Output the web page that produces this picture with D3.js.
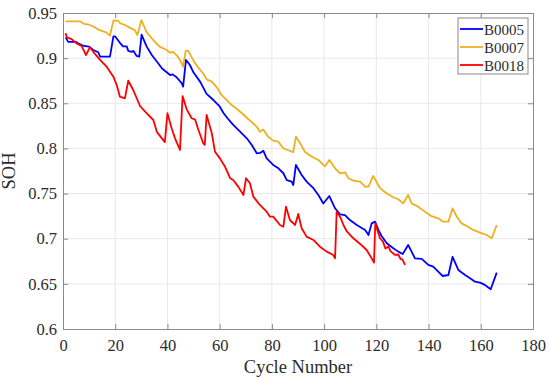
<!doctype html>
<meta charset=utf8>
<title>SOH vs cycle</title>
<style>
  html, body { margin: 0; background: #fff; }
  svg { display: block; }
  .grid line { stroke: #e8e8e8; stroke-width: 1; }
  .axis path, .axis line { stroke: #8a8a8a; }
  .series { fill: none; stroke-width: 1.8; stroke-linejoin: round; }
</style>
<svg width=550 height=379></svg>
<script src=https://d3js.org/d3.v7.min.js></script>
<script>
  // values
  var names = ['B0005', 'B0007', 'B0018'];
  var colors = ['#0000ff', '#edb120', '#ff0000'];

  var b0005Cycle = [1,2,5,6,8,10,11.6,13.5,14.2,18,19.3,20,21.8,23,24.4,25,26.3,27,28.2,29.2,30.1,32,34,36,37.8,39,41,42,43.5,45.5,46,47.1,48.6,50,52.5,55,57.6,60,61.4,63,65.2,67.8,70.4,72.3,74.2,75.5,76.7,78,80.5,82.5,84.4,85.7,87.6,88.2,89.2,91.4,93.3,95.9,97.8,99.7,102,104.2,106.1,108,109.9,112.5,115.7,117,118.2,119.5,120.8,122,124,126.5,128.4,130.1,132.2,133.5,134.8,137.4,139.9,141.8,143.7,145.4,147.6,149.2,151.4,154,155.9,157.8,159.7,161.6,163.8,166.1];
  var b0005Soh = [0.923,0.918,0.918,0.916,0.9135,0.9127,0.909,0.9065,0.9016,0.9016,0.924,0.924,0.917,0.913,0.913,0.908,0.907,0.908,0.9024,0.9016,0.926,0.913,0.9035,0.896,0.889,0.886,0.8813,0.882,0.8788,0.872,0.8684,0.898,0.8924,0.884,0.874,0.8605,0.8536,0.8465,0.8395,0.8334,0.826,0.8185,0.8112,0.8038,0.7946,0.795,0.7975,0.789,0.7817,0.778,0.7725,0.765,0.7632,0.7595,0.7817,0.7706,0.7632,0.756,0.7484,0.739,0.7473,0.7337,0.727,0.7262,0.7207,0.7152,0.7097,0.7041,0.717,0.7189,0.7097,0.703,0.695,0.6894,0.6857,0.6831,0.693,0.6857,0.6783,0.6776,0.671,0.669,0.6635,0.6587,0.6598,0.68,0.6654,0.6598,0.6562,0.6524,0.6513,0.6488,0.644,0.6624];

  var b0007Cycle = [1,6.5,8,10,12,14,16.5,18,19.3,21,22,23.5,26,27.5,28.5,30,32,34.6,37,39.7,41,42.2,44,45.5,46,47,48,50,51.8,53.7,55,57,58.9,60.8,62.7,64.6,67.1,70.4,74.2,75.4,76.7,78.6,80.5,82.5,84.4,86.3,88.2,89.2,90.8,92.7,95.2,97.8,100.3,102,104.2,106.1,108,109.3,111.2,113.8,115.7,117,118.8,121.4,124,126.5,128.4,130.3,132.2,133.5,136,138.6,141.2,143.7,145.6,147.6,149.2,150.8,152.7,154.6,157.1,159.7,162.3,164.2,166.1];
  var b0007Soh = [0.9408,0.9408,0.938,0.937,0.9345,0.931,0.9286,0.925,0.9415,0.9415,0.9385,0.937,0.933,0.931,0.9256,0.942,0.929,0.92,0.9127,0.909,0.906,0.907,0.9016,0.894,0.8905,0.908,0.908,0.897,0.8895,0.883,0.8765,0.874,0.8677,0.859,0.8536,0.848,0.8426,0.834,0.824,0.8185,0.821,0.813,0.8086,0.8075,0.8,0.798,0.796,0.813,0.8057,0.796,0.791,0.7872,0.78,0.7872,0.778,0.7725,0.7736,0.767,0.7643,0.7632,0.7577,0.7577,0.7695,0.756,0.75,0.7459,0.7437,0.7392,0.7484,0.739,0.7355,0.73,0.725,0.7226,0.7189,0.7189,0.7337,0.7244,0.717,0.714,0.7097,0.7067,0.7041,0.7005,0.7152];

  var b0018Cycle = [1,1.5,3.3,5.2,7.1,8.8,10.3,11.6,14.2,16.7,19.3,20.6,21.8,23.7,25,26.9,29.5,32,34.6,36,39,40,41.6,42.9,44.8,45.8,47.4,49.3,50.6,51.8,53.7,54.3,55,57,58.2,60.1,62,64,65.2,67.1,69.1,70.1,71.6,72.9,75.4,78,79.3,80.5,83.1,84.4,85.4,86.9,88.9,90.1,91.4,93.3,95.9,98.4,101,103.5,104.2,104.8,106.1,107.4,108.7,111.2,113.8,116.3,118.2,119.1,119.6,121.4,122.5,123.5,124.6,125.5,127.2,128.4,129.3,130,131];
  var b0018Soh = [0.9275,0.923,0.921,0.9164,0.9135,0.9035,0.912,0.907,0.898,0.8905,0.8795,0.87,0.8573,0.8555,0.875,0.8647,0.847,0.839,0.8315,0.818,0.807,0.839,0.8223,0.8112,0.7983,0.858,0.843,0.8334,0.832,0.821,0.8057,0.804,0.837,0.8167,0.7964,0.789,0.78,0.767,0.765,0.7577,0.7484,0.767,0.7614,0.7466,0.7374,0.73,0.7244,0.7244,0.7152,0.7133,0.7355,0.7207,0.7152,0.7274,0.7115,0.7023,0.6986,0.6912,0.6857,0.682,0.6783,0.73,0.7244,0.7152,0.708,0.7005,0.6942,0.6875,0.6783,0.6735,0.717,0.7005,0.697,0.689,0.6915,0.686,0.682,0.6825,0.6775,0.677,0.671];

  var xTicks = [0, 20, 40, 60, 80, 100, 120, 140, 160, 180];
  var yTicks = [0.6, 0.65, 0.7, 0.75, 0.8, 0.85, 0.9, 0.95];

  var series = [
    { name: names[0], color: colors[0], x: b0005Cycle, y: b0005Soh },
    { name: names[1], color: colors[1], x: b0007Cycle, y: b0007Soh },
    { name: names[2], color: colors[2], x: b0018Cycle, y: b0018Soh }
  ];

  var serif = '"Liberation Serif", "Times New Roman", Times, serif';
  var ink = '#2b2b2b';

  var svg = d3.select('svg').attr('font-family', serif);
  var margin = { top: 13, right: 17, bottom: 50, left: 63 };
  var width = 550 - margin.left - margin.right;
  var height = 379 - margin.top - margin.bottom;

  var x = d3.scaleLinear().domain([0, 180]).range([0, width]);
  var y = d3.scaleLinear().domain([0.6, 0.95]).range([height, 0]);

  var g = svg.append('g').attr('transform', 'translate(' + margin.left + ',' + margin.top + ')');

  // grid
  var grid = g.append('g').attr('class', 'grid');
  grid.selectAll('.vx').data(xTicks.slice(1, -1)).enter().append('line')
    .attr('x1', x).attr('x2', x).attr('y1', 0).attr('y2', height);
  grid.selectAll('.hy').data(yTicks.slice(1, -1)).enter().append('line')
    .attr('y1', y).attr('y2', y).attr('x1', 0).attr('x2', width);

  var fmt = d3.format('~g');

  // lines
  var line = d3.line().x(function(d) { return x(d[0]); }).y(function(d) { return y(d[1]); });
  g.selectAll('.series').data(series).enter().append('path')
    .attr('class', 'series')
    .attr('stroke', function(d) { return d.color; })
    .attr('d', function(d) { return line(d3.zip(d.x, d.y)); });

  // axes with inward ticks, box on
  var tk = 5;
  function style(sel) {
    sel.attr('font-family', serif).attr('font-size', 16.5);
    sel.selectAll('text').attr('fill', ink);
  }
  g.append('g').attr('class', 'axis').attr('transform', 'translate(0,' + height + ')')
    .call(d3.axisBottom(x).tickValues(xTicks).tickSizeInner(-tk).tickSizeOuter(0).tickPadding(10).tickFormat(fmt))
    .call(style);
  g.append('g').attr('class', 'axis')
    .call(d3.axisLeft(y).tickValues(yTicks).tickSizeInner(-tk).tickSizeOuter(0).tickPadding(6).tickFormat(fmt))
    .call(style);
  g.append('g').attr('class', 'axis')
    .call(d3.axisTop(x).tickValues(xTicks).tickSizeInner(-tk).tickSizeOuter(0).tickFormat(''));
  g.append('g').attr('class', 'axis').attr('transform', 'translate(' + width + ',0)')
    .call(d3.axisRight(y).tickValues(yTicks).tickSizeInner(-tk).tickSizeOuter(0).tickFormat(''));

  // axis labels
  g.append('text').attr('x', width / 2).attr('y', height + 44)
    .attr('text-anchor', 'middle').attr('font-size', 18.5).attr('fill', ink)
    .text('Cycle Number');
  g.append('text').attr('transform', 'translate(' + (-48) + ',' + (height / 2) + ') rotate(-90)')
    .attr('text-anchor', 'middle').attr('font-size', 18.5).attr('fill', ink)
    .text('SOH');

  // legend
  var lg = svg.append('g').attr('transform', 'translate(458,18)');
  lg.append('rect').attr('width', 70).attr('height', 56)
    .attr('fill', '#fff').attr('stroke', '#8a8a8a').attr('stroke-width', 1);
  var items = lg.selectAll('.item').data(series).enter().append('g')
    .attr('transform', function(d, i) { return 'translate(0,' + (11 + i * 18) + ')'; });
  items.append('line').attr('x1', 2).attr('x2', 25).attr('y1', 0).attr('y2', 0)
    .attr('stroke', function(d) { return d.color; }).attr('stroke-width', 1.8);
  items.append('text').attr('x', 26).attr('y', 5.5)
    .attr('font-size', 15).attr('fill', ink)
    .text(function(d) { return d.name; });
</script>
